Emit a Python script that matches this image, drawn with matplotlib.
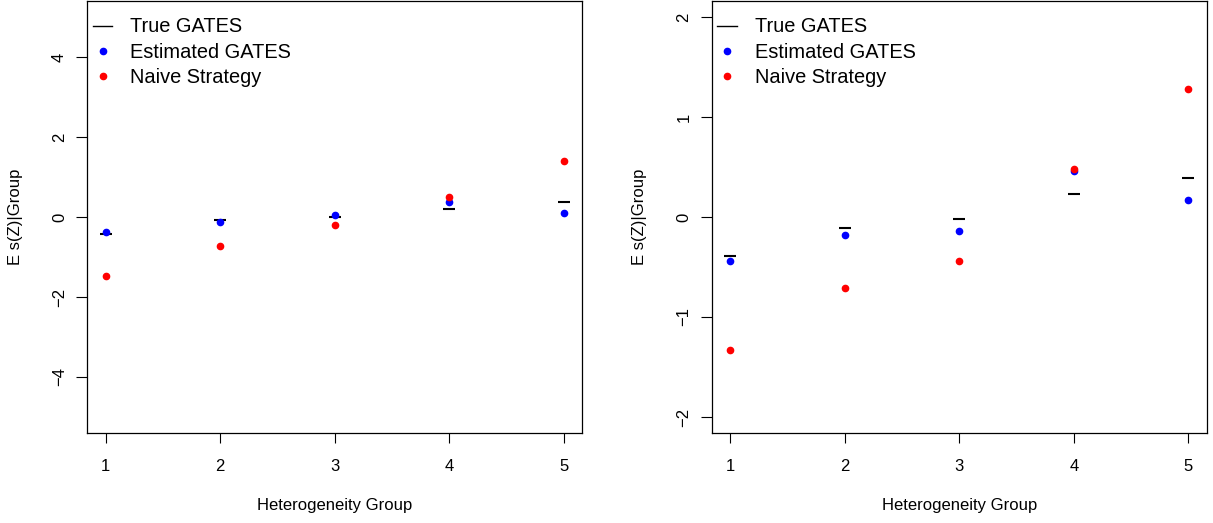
import matplotlib
matplotlib.use("Agg")
import matplotlib.pyplot as plt
from matplotlib.lines import Line2D

plt.rcParams["font.family"] = ["Liberation Sans", "DejaVu Sans"]

groups = [1, 2, 3, 4, 5]

# left panel
true_left = [-0.425, -0.075, 0.0, 0.20, 0.385]
est_left = [-0.37, -0.13, 0.04, 0.375, 0.10]
naive_left = [-1.48, -0.72, -0.19, 0.49, 1.41]
yticks_left = [-4, -2, 0, 2, 4]
ylim_left = (-5.4, 5.4)

# right panel
true_right = [-0.39, -0.11, -0.02, 0.233, 0.39]
est_right = [-0.437, -0.18, -0.143, 0.457, 0.167]
naive_right = [-1.33, -0.713, -0.437, 0.483, 1.283]
yticks_right = [-2, -1, 0, 1, 2]
ylim_right = (-2.16, 2.16)

legend_labels = ["True GATES", "Estimated GATES", "Naive Strategy"]
xlabel = "Heterogeneity Group"
ylabel = "E s(Z)|Group"

W, H = 1213, 523
fig = plt.figure(figsize=(W / 100, H / 100), dpi=100)

panels = [
    (87.3, true_left, est_left, naive_left, yticks_left, ylim_left),
    (711.7, true_right, est_right, naive_right, yticks_right, ylim_right),
]

for left_px, true_v, est_v, naive_v, yt, yl in panels:
    ax = fig.add_axes([left_px / W, 1 - 433 / H, 495 / W, 432 / H])
    ax.plot(groups, true_v, linestyle="none", marker="_", markersize=9,
            markeredgewidth=1.5, color="black")
    ax.plot(groups, est_v, linestyle="none", marker="o", markersize=4.5,
            color="#0000ff")
    ax.plot(groups, naive_v, linestyle="none", marker="o", markersize=4.5,
            color="#ff0000")

    ax.set_xlim(0.84, 5.16)
    ax.set_ylim(*yl)
    ax.set_xticks(groups)
    ax.set_yticks(yt)
    ax.tick_params(axis="x", length=7.4, width=0.8, pad=11, labelsize=12)
    ax.tick_params(axis="y", length=7.6, width=0.8, pad=7, labelsize=12,
                   labelrotation=90)
    for lab in ax.get_yticklabels():
        lab.set_va("center")
    for sp in ax.spines.values():
        sp.set_linewidth(0.9)

    ax.set_xlabel(xlabel, fontsize=12)
    ax.xaxis.set_label_coords(0.5, -0.168)
    ax.xaxis.label.set_va("center")
    ax.set_ylabel(ylabel, fontsize=12)
    ax.yaxis.set_label_coords(-0.145, 0.5)
    ax.yaxis.label.set_va("center")

    handles = [
        Line2D([], [], color="black", linewidth=1.0),
        Line2D([], [], linestyle="none", marker="o", markersize=4.5,
               color="#0000ff"),
        Line2D([], [], linestyle="none", marker="o", markersize=4.5,
               color="#ff0000"),
    ]
    ax.legend(handles, legend_labels, loc="upper left",
              bbox_to_anchor=(5.6 / 495, 1 - 16.5 / 432), frameon=False,
              fontsize=14.4, borderpad=0, borderaxespad=0,
              handlelength=0.97, handletextpad=0.9, labelspacing=0.31)

fig.savefig("out.png", dpi=100)
